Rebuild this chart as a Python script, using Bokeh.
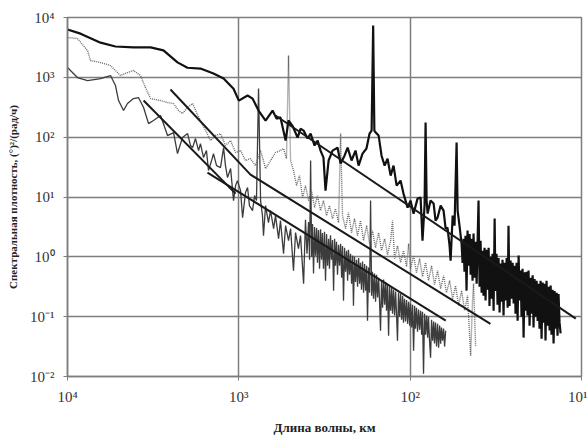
from bokeh.plotting import figure
from bokeh.models import Range1d, FixedTicker
from bokeh.embed import file_html
from bokeh.resources import INLINE

# (log10 wavelength km, log10 spectral density)
thick_spectrum = [
    (4.0, 3.80), (3.924, 3.73), (3.807, 3.58), (3.72, 3.515), (3.615, 3.50), (3.515, 3.50),
    (3.44, 3.45), (3.358, 3.25), (3.30, 3.16), (3.224, 3.147), (3.148, 3.064), (3.089, 2.98),
    (3.031, 2.81), (3.0, 2.61), (2.949, 2.696), (2.92, 2.645), (2.885, 2.445), (2.844, 2.278),
    (2.803, 2.445), (2.78, 2.31), (2.757, 2.33), (2.727, 1.943), (2.71, 2.278), (2.687, 2.19),
    (2.657, 1.993), (2.64, 2.14), (2.622, 2.11), (2.599, 1.977), (2.581, 2.06), (2.558, 1.86),
    (2.54, 1.943), (2.523, 1.776), (2.506, 1.659), (2.494, 1.107), (2.476, 1.61), (2.453, 1.776),
    (2.424, 1.826), (2.406, 1.56), (2.383, 1.69), (2.365, 1.826), (2.342, 1.61), (2.319, 1.776),
    (2.301, 1.525), (2.278, 1.726), (2.255, 1.81), (2.237, 2.06), (2.225, 2.11), (2.216, 3.866),
    (2.209, 2.11), (2.202, 2.08), (2.184, 2.027), (2.167, 1.69), (2.149, 1.525), (2.132, 1.64),
    (2.114, 1.358), (2.097, 1.525), (2.079, 1.19), (2.056, 1.274),
    (2.039, 1.057), (2.015, 0.823), (1.998, 0.94), (1.980, 0.722), (1.957, 0.973), (1.939, 0.99),
    (1.928, 0.271), (1.916, 0.856), (1.910, 2.244), (1.904, 0.94), (1.898, 0.722), (1.881, 0.94),
    (1.863, 0.89), (1.852, 0.605), (1.840, 0.656), (1.822, 0.856), (1.805, 0.773), (1.793, 0.472),
    (1.782, 0.488), (1.770, 0.187), (1.764, -0.064), (1.752, 0.689), (1.741, 0.522), (1.729, 1.91),
    (1.723, 0.773), (1.712, 0.522), (1.700, 0.22), (1.694, -0.10), (1.688, 0.30), (1.683, -0.25),
    (1.677, 0.35), (1.671, -0.565), (1.665, 0.44), (1.659, -0.15), (1.653, 0.38), (1.647, -0.30),
    (1.642, 0.30), (1.636, -0.40), (1.630, 0.39), (1.624, -0.35), (1.618, 0.25), (1.612, -0.45),
    (1.607, 0.20), (1.601, 0.94), (1.595, -0.50), (1.589, 0.27), (1.583, -0.60), (1.577, 0.10),
    (1.572, -0.65), (1.566, 0.15), (1.560, -0.73), (1.554, 0.12), (1.548, -0.55), (1.542, 0.15),
    (1.537, -0.82), (1.531, 0.00), (1.525, -0.70), (1.519, 0.05), (1.513, -0.90), (1.507, 0.64),
    (1.502, -0.57), (1.496, 0.05), (1.490, -0.80), (1.484, -0.02), (1.478, -0.93), (1.472, -0.11),
    (1.466, -0.75), (1.461, -0.05), (1.455, -0.98), (1.449, -0.10), (1.443, -0.73), (1.437, -0.02),
    (1.431, -0.85), (1.426, 0.52), (1.420, -0.82), (1.414, -0.06), (1.408, -0.70), (1.402, -0.10),
    (1.396, -0.78), (1.390, -0.15), (1.385, -0.95), (1.379, -0.10), (1.373, -1.07), (1.367, 0.02),
    (1.361, -0.73), (1.355, -0.23), (1.350, -1.00), (1.344, -0.20), (1.338, -1.35), (1.332, -0.26),
    (1.326, -0.90), (1.320, -0.25), (1.315, -0.98), (1.309, -0.23), (1.303, -1.15), (1.297, -0.35),
    (1.291, -0.95), (1.285, -0.31), (1.280, -1.18), (1.274, -0.37), (1.268, -1.00), (1.262, -0.40),
    (1.256, -1.07), (1.250, -0.45), (1.245, -1.20), (1.239, -0.40), (1.233, -1.37), (1.227, -0.43),
    (1.221, -1.10), (1.215, -0.45), (1.210, -1.40), (1.204, -0.40), (1.198, -1.15), (1.192, -0.50),
    (1.186, -1.23), (1.180, -0.48), (1.175, -1.30), (1.169, -0.55), (1.163, -1.45), (1.157, -0.57),
    (1.151, -1.20), (1.145, -0.60), (1.140, -1.32), (1.134, -0.62), (1.128, -1.10), (1.122, -1.28),
]

dotted_spectrum = [
    (4.0, 3.666), (3.942, 3.649), (3.883, 3.448), (3.866, 3.281), (3.807, 3.247), (3.749, 3.197),
    (3.691, 3.030), (3.650, 3.080), (3.615, 3.114), (3.574, 3.030), (3.545, 2.829), (3.515, 2.645),
    (3.457, 2.612), (3.416, 2.579), (3.381, 2.562), (3.352, 2.445), (3.329, 2.395), (3.30, 2.495),
    (3.270, 2.562), (3.247, 2.411),
    (3.224, 2.278), (3.194, 2.110), (3.165, 1.943), (3.136, 2.027), (3.107, 2.060), (3.078, 1.860),
    (3.048, 1.943), (3.019, 1.743), (2.990, 1.776), (2.961, 1.609), (2.932, 1.642), (2.903, 1.525),
    (2.873, 1.776), (2.844, 1.475), (2.815, 1.609), (2.786, 1.743), (2.757, 1.776), (2.739, 1.809),
    (2.722, 1.642), (2.710, 3.365), (2.698, 1.609), (2.681, 1.442), (2.663, 1.191), (2.646, 1.358),
    (2.628, 0.990), (2.611, 1.191), (2.593, 0.940), (2.576, 1.107), (2.558, 0.823), (2.541, 1.024),
    (2.523, 0.773), (2.506, 0.940), (2.488, 0.689), (2.471, 0.856), (2.453, 0.639), (2.436, 0.806),
    (2.418, 0.572), (2.406, 2.060), (2.395, 0.689), (2.377, 0.472), (2.360, 0.739), (2.342, 0.405),
    (2.325, 0.639), (2.307, 0.355), (2.290, 0.605), (2.272, 0.271), (2.254, 0.522), (2.237, 0.221),
    (2.220, 0.438), (2.202, 0.154), (2.184, 0.405), (2.167, 0.104), (2.149, 0.304), (2.132, 0.037),
    (2.114, 0.271), (2.103, 0.605), (2.091, -0.030), (2.074, 0.187), (2.056, -0.097), (2.039, 0.104),
    (2.021, -0.164), (2.009, 0.221), (1.998, -0.197), (1.980, 0.020), (1.963, -0.264), (1.945, -0.030),
    (1.928, -0.331), (1.910, -0.097), (1.893, -0.398), (1.875, -0.147), (1.858, -0.465), (1.840, -0.231),
    (1.822, -0.532), (1.805, -0.314), (1.788, -0.599), (1.770, -0.398), (1.752, -0.699), (1.735, -0.482),
    (1.717, -0.816), (1.700, -0.565), (1.682, -0.900), (1.665, -0.649), (1.647, -1.652), (1.636, -0.732),
    (1.630, -0.448), (1.618, -1.485),
]

thin_spectrum = [
    (4.0, 3.164), (3.942, 2.997), (3.883, 2.946), (3.807, 2.980), (3.749, 3.030), (3.720, 2.863),
    (3.702, 2.612), (3.673, 2.445), (3.650, 2.562), (3.615, 2.645), (3.586, 2.662), (3.556, 2.495),
    (3.527, 2.227), (3.498, 2.278), (3.457, 2.361), (3.416, 2.027), (3.381, 2.077), (3.358, 1.726),
    (3.329, 1.993), (3.299, 2.060),
    (3.282, 1.860), (3.270, 1.826), (3.253, 1.977), (3.235, 1.776), (3.224, 1.893), (3.206, 1.659),
    (3.189, 1.776), (3.177, 1.442), (3.159, 1.609), (3.148, 1.726), (3.130, 1.525), (3.107, 1.492),
    (3.089, 1.826), (3.078, 1.525), (3.066, 1.325), (3.048, 1.475), (3.031, 0.940), (3.019, 1.191),
    (3.008, 1.274), (2.990, 1.107), (2.978, 0.656), (2.961, 1.074), (2.949, 1.157), (2.938, 0.856),
    (2.920, 0.773), (2.908, 1.024), (2.897, 0.940), (2.885, 2.813), (2.873, 0.940), (2.862, 0.689),
    (2.856, 0.355), (2.844, 0.856), (2.827, 0.572), (2.815, 0.773), (2.797, 0.472), (2.786, 0.689),
    (2.768, 0.304), (2.757, 0.605), (2.739, 0.054), (2.727, 0.522), (2.710, 0.271), (2.698, 0.472),
    (2.681, -0.231), (2.669, 0.405), (2.652, 0.137), (2.640, 0.355), (2.622, -0.448),
    (2.611, 0.62), (2.602, 0.05), (2.593, 0.58), (2.587, -0.05), (2.581, 1.609), (2.575, 0.00),
    (2.570, 0.55), (2.564, -0.28), (2.558, 0.50), (2.552, 0.02), (2.546, 0.48), (2.541, -0.10),
    (2.535, 0.45), (2.529, -0.20), (2.523, 0.46), (2.517, -0.05), (2.512, 0.40), (2.506, -0.197),
    (2.500, 0.42), (2.494, -0.40), (2.488, 0.38), (2.482, -0.15), (2.476, 0.30), (2.471, -0.20),
    (2.465, 0.36), (2.459, -0.05), (2.453, 0.28), (2.447, -0.565), (2.441, 0.30), (2.436, -0.15),
    (2.430, 0.25), (2.424, -0.30), (2.418, 0.20), (2.412, -0.147), (2.406, 0.22), (2.400, -0.35),
    (2.395, 0.18), (2.389, -0.732), (2.383, 0.15), (2.377, -0.25), (2.371, 0.10), (2.365, -0.40),
    (2.360, 0.12), (2.354, -0.30), (2.348, 0.05), (2.342, -0.45), (2.336, 0.02), (2.331, -0.816),
    (2.325, 0.00), (2.319, -0.42), (2.313, -0.05), (2.307, -0.50), (2.301, -0.02), (2.295, -0.45),
    (2.290, -0.10), (2.284, -0.55), (2.278, -0.08), (2.272, -0.60), (2.266, -0.12), (2.260, -0.565),
    (2.254, -0.15), (2.249, -1.067), (2.243, -0.18), (2.237, -0.60), (2.231, 0.94), (2.225, -0.65),
    (2.220, -0.25), (2.214, -0.70), (2.208, -0.28), (2.202, -0.75), (2.196, -0.30), (2.190, -0.68),
    (2.184, -0.35), (2.178, -0.80), (2.173, -1.234), (2.167, -0.40), (2.161, -0.85), (2.155, -0.38),
    (2.149, -0.80), (2.143, -0.42), (2.138, -0.90), (2.132, -0.45), (2.126, -1.318), (2.120, -0.50),
    (2.114, -0.90), (2.108, -0.52), (2.103, -0.95), (2.097, -0.55), (2.091, -0.98), (2.085, -0.58),
    (2.079, -1.00), (2.074, -1.401), (2.068, -0.60), (2.062, -1.00), (2.056, -0.62), (2.050, -1.05),
    (2.044, -0.65), (2.039, -1.10), (2.033, -0.70), (2.027, -1.08), (2.021, -0.72), (2.015, -1.12),
    (2.009, -0.75), (2.003, -1.15), (1.998, -0.78), (1.992, -1.18), (1.986, -0.80), (1.980, -1.569),
    (1.974, -0.82), (1.969, -1.20), (1.963, -0.85), (1.957, -1.25), (1.951, -0.88), (1.945, -1.22),
    (1.939, -0.90), (1.933, -1.30), (1.928, -0.92), (1.922, -1.953), (1.916, -0.95), (1.910, -1.30),
    (1.904, -0.98), (1.898, -1.35), (1.893, -1.00), (1.887, -1.40), (1.881, -1.686), (1.875, -1.05),
    (1.869, -1.40), (1.863, -1.08), (1.858, -1.45), (1.852, -1.10), (1.846, -1.50), (1.840, -1.12),
    (1.834, -1.518), (1.828, -1.15), (1.822, -1.45), (1.817, -1.18), (1.811, -1.40), (1.805, -1.20),
    (1.799, -1.50), (1.793, -1.234),
]

# fitted power-law lines: (wavelength km, density)
fit_top = [(611, 230), (10.8, 0.093)]
fit_middle = [(2506, 625), (855, 23.7), (34, 0.076)]
fit_lower_steep = [(3597, 409), (1045, 11.4)]
fit_lower_flat = [(1524, 25.6), (62, 0.0857)]

x_ticks = [10000, 1000, 100, 10]
x_tick_labels = ["10⁴", "10³", "10²", "10¹"]
y_ticks = [0.01, 0.1, 1, 10, 100, 1000, 10000]
y_tick_labels = ["10⁻²", "10⁻¹", "10⁰", "10¹", "10²", "10³", "10⁴"]

SERIF = "Liberation Serif"
GRID = "#7e7e7e"

p = figure(x_axis_type="log", y_axis_type="log",
           x_range=Range1d(1e4, 10), y_range=Range1d(1e-2, 1e4),
           width=587, height=443,
           min_border_left=67, min_border_right=6, min_border_top=17, min_border_bottom=67,
           output_backend="svg", toolbar_location=None)
p.background_fill_color = "white"
p.border_fill_color = "white"
p.outline_line_color = GRID
p.outline_line_width = 1.5


def unpack(pairs, logged):
    if logged:
        return [10 ** a for a, _ in pairs], [10 ** b for _, b in pairs]
    return [a for a, _ in pairs], [b for _, b in pairs]


x, y = unpack(thin_spectrum, True)
p.line(x, y, line_color="#3c3c3c", line_width=1.3)
x, y = unpack(dotted_spectrum, True)
p.line(x, y, line_color="#6a6a6a", line_width=1.4, line_dash="1 1")
x, y = unpack(thick_spectrum, True)
p.line(x, y, line_color="#111111", line_width=2.2)

for fit in (fit_top, fit_middle, fit_lower_steep, fit_lower_flat):
    x, y = unpack(fit, False)
    p.line(x, y, line_color="#1a1a1a", line_width=2)

p.xaxis.ticker = FixedTicker(ticks=x_ticks, minor_ticks=[])
p.yaxis.ticker = FixedTicker(ticks=y_ticks, minor_ticks=[])
p.xaxis.major_label_overrides = {t: l for t, l in zip(x_ticks, x_tick_labels)}
p.yaxis.major_label_overrides = {t: l for t, l in zip(y_ticks, y_tick_labels)}

for ax in (p.xaxis, p.yaxis):
    ax.axis_line_color = GRID
    ax.axis_line_width = 1.5
    ax.major_tick_line_color = GRID
    ax.major_tick_in = 0
    ax.major_tick_out = 4
    ax.minor_tick_line_color = None
    ax.major_label_text_font = SERIF
    ax.major_label_text_font_size = "15px"
    ax.major_label_text_color = "#333333"
    ax.axis_label_text_font = SERIF
    ax.axis_label_text_font_style = "bold"
    ax.axis_label_text_color = "#222222"

p.xaxis.major_label_standoff = 8
p.yaxis.major_label_standoff = 9
p.xaxis.axis_label = "Длина волны, км"
p.xaxis.axis_label_text_font_size = "13px"
p.xaxis.axis_label_standoff = 12
p.yaxis.axis_label = "Спектральная плотность, (°)²/(рад/ч)"
p.yaxis.axis_label_text_font_size = "11px"
p.yaxis.axis_label_standoff = 8

p.xgrid.grid_line_color = GRID
p.ygrid.grid_line_color = GRID
p.xgrid.grid_line_width = 1.5
p.ygrid.grid_line_width = 1.5

open("out.html", "w").write(file_html(p, INLINE))
